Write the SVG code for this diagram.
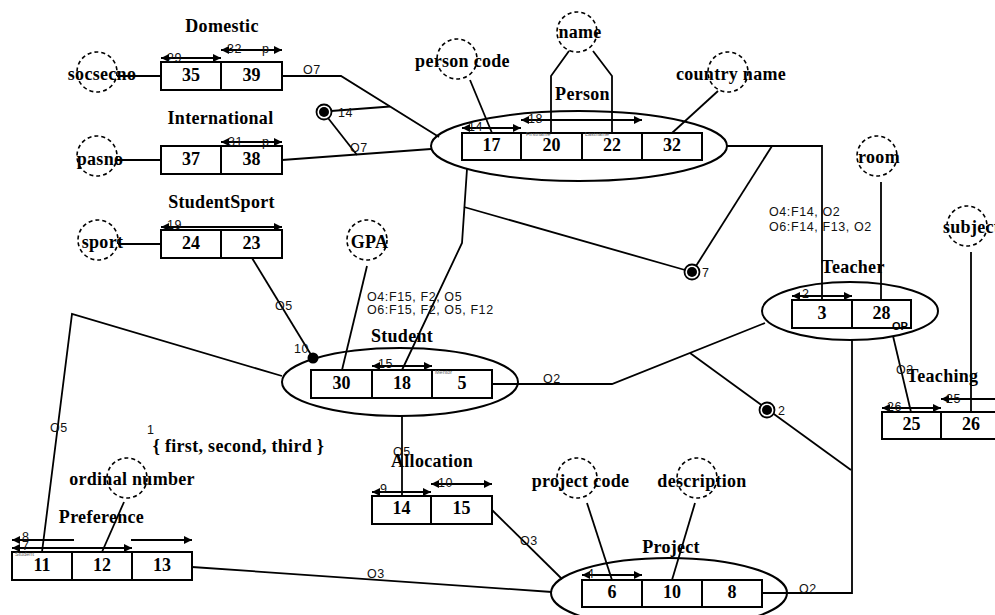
<svg xmlns="http://www.w3.org/2000/svg" width="995" height="615" viewBox="0 0 995 615">
<style>
.b{fill:#fff;stroke:#000;stroke-width:2}
.e{fill:none;stroke:#000;stroke-width:2}
.c{fill:none;stroke:#000;stroke-width:1.6;stroke-dasharray:4 3}
.l{fill:none;stroke:#000;stroke-width:1.8}
.a{stroke:#000;stroke-width:1.8;marker-start:url(#ah);marker-end:url(#ah)}
.as{stroke:#000;stroke-width:1.8;marker-start:url(#ah)}
.ae{stroke:#000;stroke-width:1.8;marker-end:url(#ah)}
.t{font-family:"Liberation Serif","Times New Roman",serif;font-weight:bold;font-size:18px;letter-spacing:.3px;text-anchor:middle;fill:#000}
.n{font-family:"Liberation Serif","Times New Roman",serif;font-weight:bold;font-size:18px;text-anchor:middle;fill:#000}
.s{font-family:"Liberation Sans",Arial,sans-serif;font-size:12.5px;letter-spacing:.6px;fill:#111}
.tiny{font-family:"Liberation Sans",Arial,sans-serif;font-size:5.5px;fill:#666}
.op{font-family:"Liberation Sans",Arial,sans-serif;font-size:11px;font-weight:bold;fill:#000}
.mo{fill:#fff;stroke:#000;stroke-width:1.8}
</style>
<defs>
<marker id="ah" viewBox="0 0 8 8" refX="8" refY="4" markerWidth="8" markerHeight="8" markerUnits="userSpaceOnUse" orient="auto-start-reverse">
<path d="M0,0 L8,4 L0,8 z" fill="#000"/>
</marker>
</defs>
<rect width="995" height="615" fill="#fff"/>

<g id="connectors">
<polyline class="l" points="117,76 161,76"/>
<polyline class="l" points="117,160 161,160"/>
<polyline class="l" points="118,244 161,244"/>
<polyline class="l" points="282,76 341,76 439,137"/>
<polyline class="l" points="282,160 431,149"/>
<polyline class="l" points="331,111 390,106.5"/>
<polyline class="l" points="328,118 357,155"/>
<polyline class="l" points="470,80 492,133"/>
<polyline class="l" points="569,51 551,76 551,133"/>
<polyline class="l" points="593,51 612,76 612,133"/>
<polyline class="l" points="718,91 672,133"/>
<polyline class="l" points="727,146 822,146 822,300"/>
<polyline class="l" points="772,146 696,266"/>
<polyline class="l" points="467,169 462,243 402,370"/>
<polyline class="l" points="464,207 685,270"/>
<polyline class="l" points="367,266 342,370"/>
<polyline class="l" points="252,258 313,358"/>
<polyline class="l" points="282,376 72,314 42,552"/>
<polyline class="l" points="492,384 612,384 765,323"/>
<polyline class="l" points="690,353 851,470"/>
<polyline class="l" points="852,340 852,593 762,593"/>
<polyline class="l" points="881,182 881,300"/>
<polyline class="l" points="893,336 911,412"/>
<polyline class="l" points="971,252 971,412"/>
<polyline class="l" points="402,416 402,496"/>
<polyline class="l" points="492,510 562,579"/>
<polyline class="l" points="124,502 102,552"/>
<polyline class="l" points="192,567 552,592"/>
<polyline class="l" points="587,503 612,580"/>
<polyline class="l" points="695,503 672,580"/>
<text class="s" x="303" y="74">O7</text>
<text class="s" x="350" y="152">O7</text>
<text class="s" x="275" y="310">O5</text>
<text class="s" x="50" y="432">O5</text>
<text class="s" x="543" y="383">O2</text>
<text class="s" x="896" y="374">O2</text>
<text class="s" x="393" y="456">O5</text>
<text class="s" x="520" y="545">O3</text>
<text class="s" x="367" y="578">O3</text>
<text class="s" x="799" y="593">O2</text>
<text class="s" x="769" y="216">O4:F14, O2</text>
<text class="s" x="769" y="231">O6:F14, F13, O2</text>
<text class="s" x="367" y="301">O4:F15, F2, O5</text>
<text class="s" x="367" y="314">O6:F15, F2, O5, F12</text>
</g>

<g id="m14">
<circle class="mo" cx="324" cy="112" r="7.5"/><circle cx="324" cy="112" r="5" fill="#000"/>
<text class="s" x="338" y="117">14</text>
</g>
<g id="m7">
<circle class="mo" cx="692" cy="272" r="7.5"/><circle cx="692" cy="272" r="5" fill="#000"/>
<text class="s" x="702" y="277">7</text>
</g>
<g id="m2">
<circle class="mo" cx="767" cy="410" r="7.5"/><circle cx="767" cy="410" r="5" fill="#000"/>
<text class="s" x="778" y="415">2</text>
</g>
<g id="m10">
<circle cx="313" cy="358" r="5.5" fill="#000"/>
<text class="s" x="294" y="353">10</text>
</g>

<g id="socsecno"><circle class="c" cx="97" cy="72" r="20"/><text class="t" x="102" y="80">socsecno</text></g>
<g id="pasno"><circle class="c" cx="97" cy="156" r="20"/><text class="t" x="100" y="165">pasno</text></g>
<g id="sport"><circle class="c" cx="98" cy="240" r="20"/><text class="t" x="102.5" y="248">sport</text></g>
<g id="name"><circle class="c" cx="577" cy="32" r="20"/><text class="t" x="580" y="38">name</text></g>
<g id="personcode"><circle class="c" cx="457" cy="59" r="20"/><text class="t" x="462.5" y="67">person code</text></g>
<g id="countryname"><circle class="c" cx="728" cy="72" r="20"/><text class="t" x="731" y="80">country name</text></g>
<g id="room"><circle class="c" cx="877" cy="156" r="20"/><text class="t" x="879" y="163">room</text></g>
<g id="subject"><circle class="c" cx="967" cy="226" r="20"/><text class="t" x="943" y="233" style="text-anchor:start">subject</text></g>
<g id="gpa"><circle class="c" cx="367" cy="240" r="20"/><text class="t" x="369.5" y="248">GPA</text></g>
<g id="ordinalnumber"><circle class="c" cx="127" cy="478" r="20"/><text class="t" x="132" y="485">ordinal number</text></g>
<g id="projectcode"><circle class="c" cx="577" cy="478" r="20"/><text class="t" x="580.5" y="487">project code</text></g>
<g id="description"><circle class="c" cx="697" cy="478" r="20"/><text class="t" x="702" y="487">description</text></g>

<g id="domestic">
<text class="t" x="222" y="32">Domestic</text>
<rect class="b" x="161" y="62" width="60" height="28"/><rect class="b" x="221" y="62" width="61" height="28"/>
<text class="n" x="191" y="80.5">35</text><text class="n" x="251.5" y="80.5">39</text>
<line class="a" x1="161" y1="58" x2="221" y2="58"/><text class="s" x="167" y="62">29</text>
<line class="a" x1="221" y1="50" x2="282" y2="50"/><text class="s" x="227" y="53">32</text><text class="s" x="262" y="53">p</text>
</g>

<g id="international">
<text class="t" x="220.5" y="124">International</text>
<rect class="b" x="161" y="146" width="60" height="28"/><rect class="b" x="221" y="146" width="61" height="28"/>
<text class="n" x="191" y="164.5">37</text><text class="n" x="251.5" y="164.5">38</text>
<line class="a" x1="221" y1="142" x2="282" y2="142"/><text class="s" x="228" y="146">31</text><text class="s" x="262" y="146">p</text>
</g>

<g id="studentsport">
<text class="t" x="221.5" y="208">StudentSport</text>
<rect class="b" x="161" y="230" width="60" height="28"/><rect class="b" x="221" y="230" width="61" height="28"/>
<text class="n" x="191" y="248.5">24</text><text class="n" x="251.5" y="248.5">23</text>
<line class="a" x1="161" y1="227" x2="282" y2="227"/><text class="s" x="167" y="229">19</text>
</g>

<g id="person">
<ellipse class="e" cx="579" cy="146" rx="148" ry="35"/>
<text class="t" x="582.5" y="100">Person</text>
<rect class="b" x="462" y="133" width="59" height="27"/><rect class="b" x="521" y="133" width="61" height="27"/>
<rect class="b" x="582" y="133" width="60" height="27"/><rect class="b" x="642" y="133" width="60" height="27"/>
<text class="n" x="491.5" y="151">17</text><text class="n" x="551.5" y="151">20</text>
<text class="n" x="612" y="151">22</text><text class="n" x="672" y="151">32</text>
<text class="tiny" x="526" y="136">Firstname</text><text class="tiny" x="585" y="136">Lastname</text>
<line class="a" x1="462" y1="128" x2="521" y2="128"/><text class="s" x="468" y="131">14</text>
<line class="a" x1="521" y1="120" x2="642" y2="120"/><text class="s" x="528" y="123">18</text>
</g>

<g id="teacher">
<ellipse class="e" cx="850" cy="311" rx="88" ry="29"/>
<text class="t" x="853" y="273">Teacher</text>
<rect class="b" x="792" y="300" width="60" height="28"/><rect class="b" x="852" y="300" width="59" height="28"/>
<text class="n" x="822" y="318.5">3</text><text class="n" x="881.5" y="318.5">28</text>
<text class="op" x="892" y="330">OP</text>
<line class="a" x1="792" y1="296" x2="852" y2="296"/><text class="s" x="802" y="298">2</text>
</g>

<g id="teaching">
<text class="t" x="942.5" y="382">Teaching</text>
<rect class="b" x="882" y="412" width="59" height="27"/><rect class="b" x="941" y="412" width="60" height="27"/>
<text class="n" x="911.5" y="430">25</text><text class="n" x="971" y="430">26</text>
<line class="a" x1="882" y1="408" x2="941" y2="408"/><text class="s" x="887" y="411">26</text>
<line class="as" x1="941" y1="399" x2="1000" y2="399"/><text class="s" x="946" y="403">25</text>
</g>

<g id="student">
<ellipse class="e" cx="400" cy="382" rx="118" ry="34"/>
<text class="t" x="402" y="342">Student</text>
<rect class="b" x="311" y="370" width="61" height="28"/><rect class="b" x="372" y="370" width="60" height="28"/>
<rect class="b" x="432" y="370" width="60" height="28"/>
<text class="n" x="341.5" y="388.5">30</text><text class="n" x="402" y="388.5">18</text><text class="n" x="462" y="388.5">5</text>
<text class="tiny" x="435" y="374">Mentor</text>
<line class="a" x1="372" y1="366" x2="432" y2="366"/><text class="s" x="378" y="368">15</text>
</g>

<g id="allocation">
<text class="t" x="432" y="467">Allocation</text>
<rect class="b" x="372" y="496" width="59" height="28"/><rect class="b" x="431" y="496" width="61" height="28"/>
<text class="n" x="401.5" y="514">14</text><text class="n" x="461.5" y="514">15</text>
<line class="a" x1="372" y1="492" x2="431" y2="492"/><text class="s" x="380" y="493">9</text>
<line class="a" x1="431" y1="484" x2="492" y2="484"/><text class="s" x="438" y="487">10</text>
</g>

<g id="preference">
<text class="t" x="101.5" y="523">Preference</text>
<rect class="b" x="12" y="552" width="60" height="28"/><rect class="b" x="72" y="552" width="60" height="28"/>
<rect class="b" x="132" y="552" width="60" height="28"/>
<text class="n" x="42" y="571">11</text><text class="n" x="102" y="571">12</text><text class="n" x="162" y="571">13</text>
<text class="tiny" x="15" y="556">Student</text>
<line class="as" x1="12" y1="540" x2="74" y2="540"/>
<line class="ae" x1="131" y1="540" x2="192" y2="540"/>
<text class="s" x="22" y="541">8</text>
<line class="a" x1="12" y1="548" x2="132" y2="548"/><text class="s" x="22" y="550">7</text>
</g>

<g id="ordinalvalues">
<text class="s" x="147" y="434">1</text>
<text class="t" x="238.5" y="452">{ first, second, third }</text>
</g>

<g id="project">
<ellipse class="e" cx="669" cy="593" rx="118" ry="35"/>
<text class="t" x="671" y="553">Project</text>
<rect class="b" x="582" y="580" width="60" height="27"/><rect class="b" x="642" y="580" width="60" height="27"/>
<rect class="b" x="702" y="580" width="60" height="27"/>
<text class="n" x="612" y="598">6</text><text class="n" x="672" y="598">10</text><text class="n" x="732" y="598">8</text>
<line class="a" x1="582" y1="575" x2="642" y2="575"/><text class="s" x="587" y="578">4</text>
</g>
</svg>
